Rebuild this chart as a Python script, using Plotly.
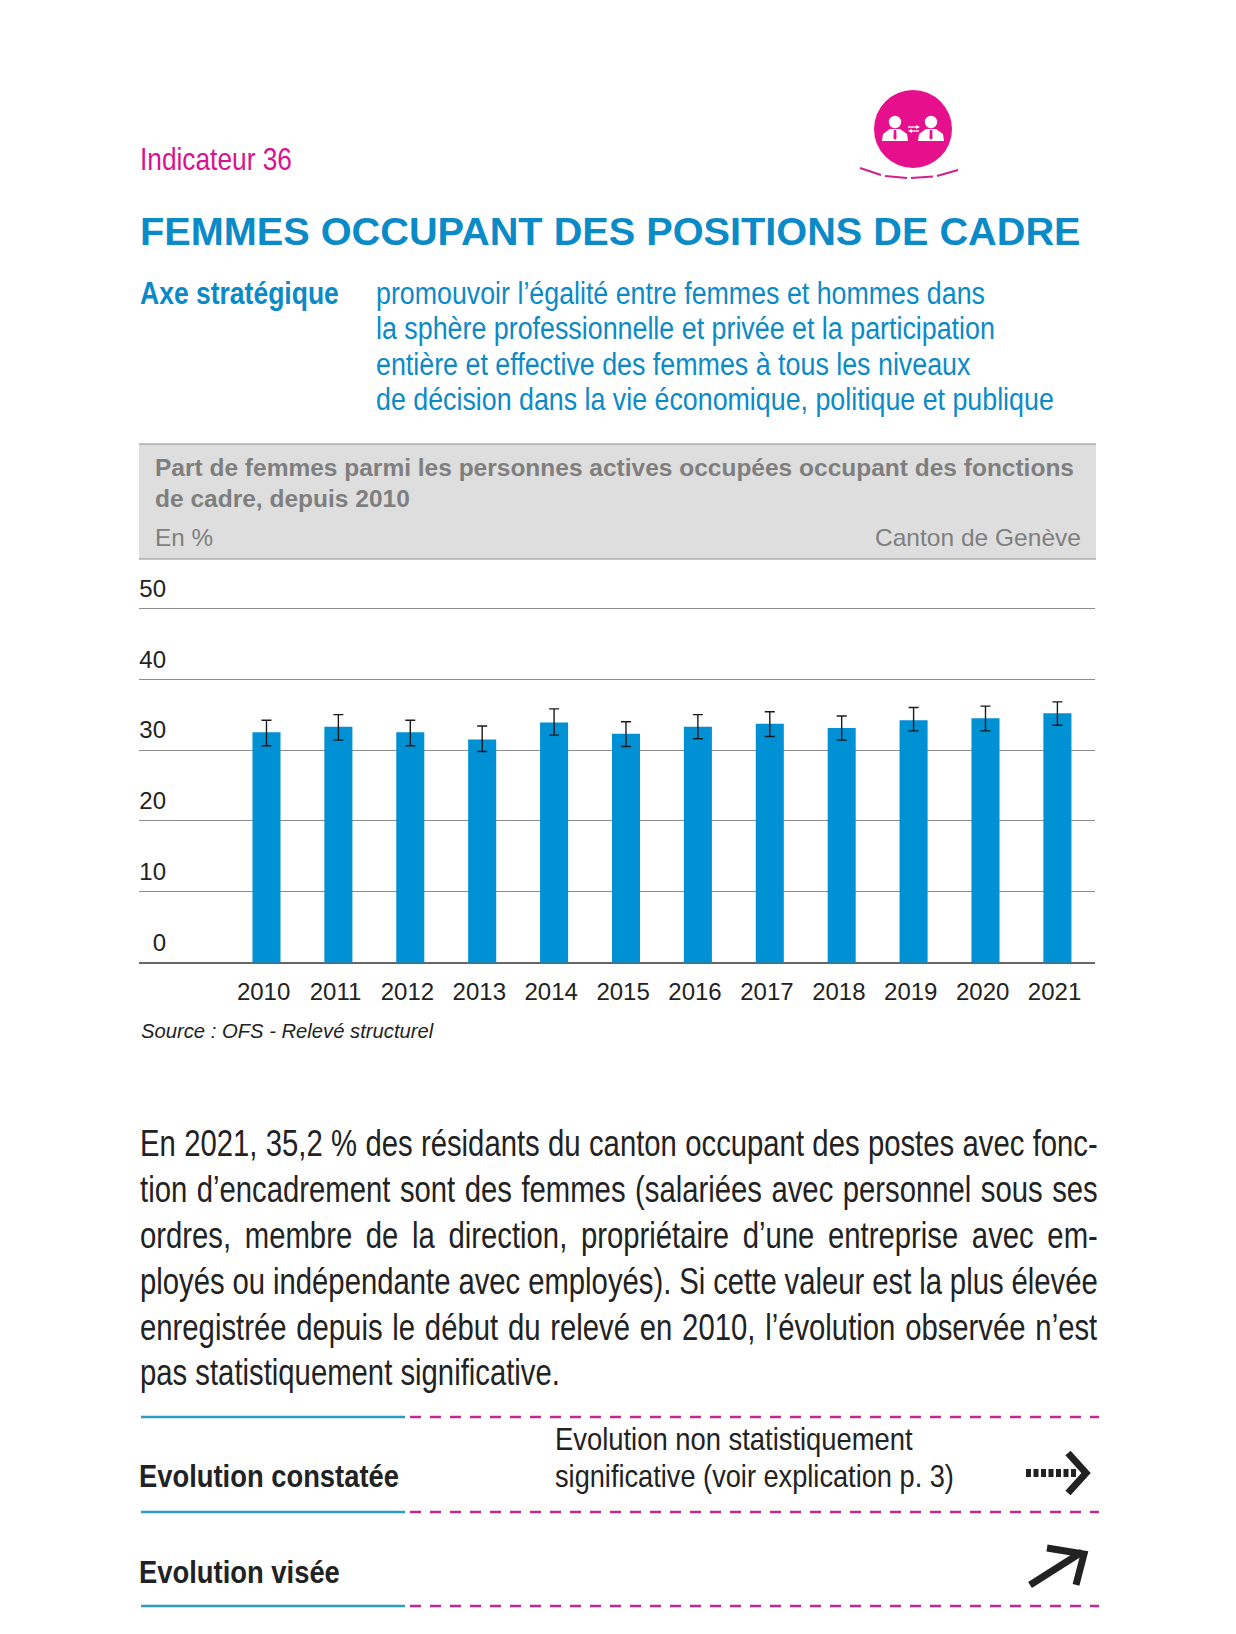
import json
import plotly.graph_objects as go

years = [2010, 2011, 2012, 2013, 2014, 2015, 2016, 2017, 2018, 2019, 2020, 2021]
share = [32.5, 33.3, 32.5, 31.5, 33.9, 32.3, 33.3, 33.7, 33.1, 34.2, 34.5, 35.2]
ci_high = [34.2, 35.0, 34.2, 33.4, 35.8, 34.0, 35.0, 35.4, 34.8, 36.0, 36.2, 36.8]
ci_low = [30.6, 31.4, 30.6, 29.8, 32.1, 30.5, 31.6, 31.9, 31.4, 32.7, 32.7, 33.5]
y_ticks = [0, 10, 20, 30, 40, 50]

W, H = 1236, 1634
ARIAL = "Liberation Sans"
BLUE = "#0090D4"
TITLE_BLUE = "#0A8AC6"
PINK = "#E6108C"
DARK = "#222222"
GREY = "#7F7F7F"

def X(x): return x / W
def Y(y): return 1 - y / H

fig = go.Figure()
fig.add_trace(go.Bar(
    x=years, y=share, width=0.39, marker=dict(color=BLUE, line=dict(width=0)),
    error_y=dict(type="data", symmetric=False,
                 array=[h - v for h, v in zip(ci_high, share)],
                 arrayminus=[v - l for l, v in zip(ci_low, share)],
                 color="#1a1a1a", thickness=1.4, width=5),
))

annotations = []
fit_widths = {}
body_lines = []
def text(s, x, y, size, color, width=None, body=False):
    i = len(annotations)
    annotations.append(dict(text=s, x=X(x), y=Y(y), xref="paper", yref="paper",
                            xanchor="left", yanchor="middle", showarrow=False,
                            font=dict(family=ARIAL, size=size, color=color),
                            align="left", borderpad=0, borderwidth=0))
    if body:
        body_lines.append([i, width])
    elif width:
        fit_widths[i] = width

text("Indicateur 36", 140, 159, 32, "#D9128F", 152)
text("<b>FEMMES OCCUPANT DES POSITIONS DE CADRE</b>", 140, 231, 39, TITLE_BLUE, 941)
text("<b>Axe stratégique</b>", 140, 293, 31, TITLE_BLUE, 199)
for s, y, w in [("promouvoir l’égalité entre femmes et hommes dans", 293, 609),
                ("la sphère professionnelle et privée et la participation", 328.5, 619),
                ("entière et effective des femmes à tous les niveaux", 364, 595),
                ("de décision dans la vie économique, politique et publique", 399, 678)]:
    text(s, 376, y, 31, TITLE_BLUE, w)
text("<b>Part de femmes parmi les personnes actives occupées occupant des fonctions</b>", 155, 467, 24, GREY, 919)
text("<b>de cadre, depuis 2010</b>", 155, 498, 24, GREY, 255)
text("En %", 155, 537.5, 24, GREY, 58)
text("Canton de Genève", 875, 537.5, 24, GREY, 206)
text("<i>Source : OFS - Relevé structurel</i>", 141, 1031, 20, DARK, 293)
for s, y, w in [("En 2021, 35,2 % des résidants du canton occupant des postes avec fonc-", 1143, 958),
                ("tion d’encadrement sont des femmes (salariées avec personnel sous ses", 1189, 958),
                ("ordres, membre de la direction, propriétaire d’une entreprise avec em-", 1235, 958),
                ("ployés ou indépendante avec employés). Si cette valeur est la plus élevée", 1281, 958),
                ("enregistrée depuis le début du relevé en 2010, l’évolution observée n’est", 1327, 958),
                ("pas statistiquement significative.", 1372, 420)]:
    text(s, 140, y, 37, DARK, w, body=True)
text("<b>Evolution constatée</b>", 138.5, 1476, 32, DARK, 260)
text("<b>Evolution visée</b>", 138.5, 1572, 32, DARK, 201)
text("Evolution non statistiquement", 554.5, 1439, 32, DARK, 358)
text("significative (voir explication p. 3)", 554.5, 1476, 32, DARK, 399)

shapes = []
def line(x0, y0, x1, y1, color, width, dash=None):
    shapes.append(dict(type="line", xref="paper", yref="paper",
                       x0=X(x0), y0=Y(y0), x1=X(x1), y1=Y(y1),
                       line=dict(color=color, width=width, dash=dash)))
def path(pts, color, width=0, fill=None):
    d = "M" + " L".join(f"{X(a):.5f},{Y(b):.5f}" for a, b in pts)
    if fill:
        d += " Z"
    shapes.append(dict(type="path", xref="paper", yref="paper", path=d,
                       fillcolor=fill, line=dict(color=color, width=width)))
def circle(cx, cy, r, fill):
    shapes.append(dict(type="circle", xref="paper", yref="paper",
                       x0=X(cx - r), x1=X(cx + r), y0=Y(cy - r), y1=Y(cy + r),
                       fillcolor=fill, line=dict(width=0)))

# header band
shapes.append(dict(type="rect", xref="paper", yref="paper", x0=X(139), x1=X(1096),
                   y0=Y(444), y1=Y(559), fillcolor="#DEDEDE", line=dict(width=0), layer="below"))
line(139, 444, 1096, 444, "#8A8A8A", 1.2)
line(139, 559, 1096, 559, "#8A8A8A", 1.2)

# pictogram
circle(913, 129, 39, PINK)
for cx in (895, 931):
    circle(cx, 122, 6.2, "white")
    path([(cx - 13, 141), (cx - 12, 134), (cx - 5, 129), (cx + 5, 129), (cx + 12, 134), (cx + 13, 141)],
         "white", 0, "white")
    path([(cx - 1.2, 130), (cx + 1.2, 130), (cx + 1.6, 138), (cx, 140), (cx - 1.6, 138)], PINK, 0, PINK)
line(908, 127, 917, 127, "white", 1.3)
path([(916, 125), (920, 127), (916, 129)], "white", 0, "white")
line(911, 131, 919, 131, "white", 1.3)
path([(912, 129), (908, 131), (912, 133)], "white", 0, "white")
for seg in [[(860, 168), (881, 175)], [(885, 176), (907, 178)], [(911, 178), (933, 176.5)], [(937, 176), (958, 170)]]:
    line(seg[0][0], seg[0][1], seg[1][0], seg[1][1], "#D0208F", 2)

# rule lines
for y in (1417, 1512, 1606):
    line(141, y, 405, y, "#2E9BC4", 2.4)
    line(410, y, 1099, y, "#C4288F", 2.6, "11px,9px")

# arrows
line(1026, 1473, 1076, 1473, "#222222", 8, "5px,2.5px")
path([(1068, 1453), (1086, 1473), (1068, 1493)], "#222222", 7)
line(1030, 1585, 1082, 1552, "#222222", 7)
path([(1047, 1548), (1084, 1554), (1076, 1585)], "#222222", 7)

fig.update_layout(
    width=W, height=H, autosize=False, showlegend=False, bargap=0.6,
    margin=dict(l=0, r=0, t=0, b=0), paper_bgcolor="white", plot_bgcolor="white",
    annotations=annotations, shapes=shapes,
    xaxis=dict(domain=[X(139), X(1095)], range=[2008.227, 2021.523], automargin=False,
               tickmode="array", tickvals=[y - 0.04 for y in years], ticktext=[str(y) for y in years],
               showgrid=False, zeroline=False, ticks="", showline=False,
               tickfont=dict(family=ARIAL, size=24, color=DARK), ticklabelstandoff=12),
    yaxis=dict(domain=[Y(962.7), Y(607.2)], range=[0, 50.15], automargin=False,
               tickmode="array", tickvals=y_ticks,
               ticktext=[str(v) for v in y_ticks], showgrid=True, gridcolor="#8C8C8C", gridwidth=1.2,
               zeroline=True, zerolinecolor="#666666", zerolinewidth=1.5, ticks="", showline=False,
               tickfont=dict(family=ARIAL, size=24, color=DARK),
               ticklabelstandoff=-28, ticklabelshift=-20),
)

# The reference's type is a condensed Helvetica: squeeze real text to the measured line widths.
post = """
document.body.style.margin = '0';
(function () {
  var fit = %s, body = %s;
  function node(i) { return document.querySelector('.annotation[data-index="' + i + '"] text'); }
  function squeeze(t, sx, bb) {
    t.setAttribute('transform', 'translate(' + (bb.x * (1 - sx)) + ',0) scale(' + sx + ',1)');
  }
  function run() {
    if (!node(0)) { setTimeout(run, 20); return; }
    Object.keys(fit).forEach(function (i) {
      var t = node(i), bb = t.getBBox();
      squeeze(t, fit[i] / bb.width, bb);
    });
    var last = body[body.length - 1], lt = node(last[0]), lb = lt.getBBox(), sx = last[1] / lb.width;
    body.forEach(function (b) {
      var t = node(b[0]), bb = t.getBBox(), n = t.textContent.split(' ').length - 1;
      t.style.wordSpacing = ((b[1] / sx - bb.width) / n) + 'px';
      bb = t.getBBox();
      squeeze(t, sx, bb);
    });
  }
  run();
})();
""" % (json.dumps(fit_widths), json.dumps(body_lines))

fig.write_html("out.html", config={"displayModeBar": False}, post_script=post)
